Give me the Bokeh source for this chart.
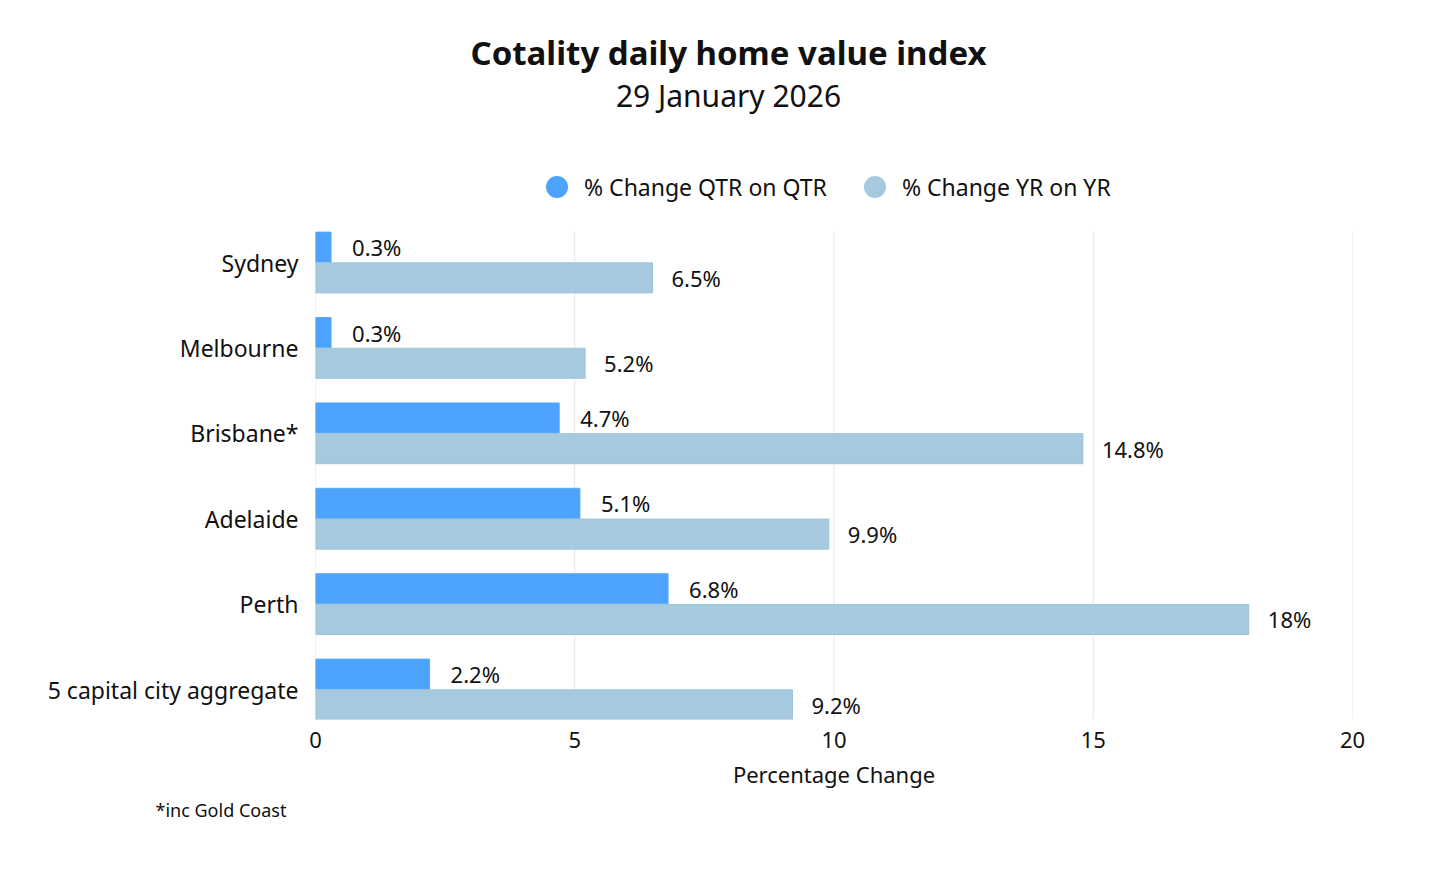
from bokeh.plotting import figure
from bokeh.models import ColumnDataSource, Legend, LegendItem, FixedTicker, Range1d, Title
from bokeh.embed import file_html
from bokeh.resources import INLINE
from bokeh.core.properties import value

cities = ["Sydney", "Melbourne", "Brisbane*", "Adelaide", "Perth", "5 capital city aggregate"]
qtr = [0.3, 0.3, 4.7, 5.1, 6.8, 2.2]
yr = [6.5, 5.2, 14.8, 9.9, 18.0, 9.2]
qtr_labels = ["0.3%", "0.3%", "4.7%", "5.1%", "6.8%", "2.2%"]
yr_labels = ["6.5%", "5.2%", "14.8%", "9.9%", "18%", "9.2%"]
x_ticks = [0, 5, 10, 15, 20]

FONT = "Noto Sans"
C_QTR = "#4DA3FB"
C_YR = "#A6C9DF"
TXT = "#111111"

n = len(cities)
pos = [n - 1 - i for i in range(n)]
src = ColumnDataSource(dict(
    city=cities, pos=pos, qtr=qtr, yr=yr,
    qpos=[v + 0.18 for v in pos], ypos=[v - 0.18 for v in pos],
    ql=qtr_labels, yl=yr_labels,
))

W, H = 1440, 858
FL, FR, FB = 315, 1352, 719      # frame left/right/bottom in figure pixels (top = 0)
Y0, PX = -0.351, 85.4            # y value at frame bottom, pixels per category
Y_TOP_BARS = 5.363

p = figure(width=W, height=H, output_backend="svg", toolbar_location=None, title_location=None,
           x_range=Range1d(0, 20), y_range=Range1d(Y0, Y0 + FB / PX),
           min_border_left=FL, min_border_right=W - FR, min_border_top=0, min_border_bottom=H - FB)
p.outline_line_color = None
p.background_fill_color = "white"
p.extra_x_ranges = {"px": Range1d(FL, FR)}
p.extra_y_ranges = {"px": Range1d(FB, 0)}

# grid lines limited to bar area
p.segment(x0=x_ticks, x1=x_ticks, y0=[Y0] * len(x_ticks), y1=[Y_TOP_BARS] * len(x_ticks),
          line_color="#E6E6E6", line_width=1)

p.hbar(y="qpos", left=0, right="qtr", height=0.352, source=src, fill_color=C_QTR,
       line_color="#5AAAF9", line_width=1)
p.hbar(y="ypos", left=0, right="yr", height=0.352, source=src, fill_color=C_YR,
       line_color="#9FC4DD", line_width=1)

p.text(x="qtr", y="qpos", text="ql", source=src, x_offset=21, text_baseline="middle",
       text_font=value(FONT), text_font_size="22px", text_color=TXT)
p.text(x="yr", y="ypos", text="yl", source=src, x_offset=19, text_baseline="middle",
       text_font=value(FONT), text_font_size="22px", text_color=TXT)

# axes
p.xaxis.ticker = FixedTicker(ticks=x_ticks)
p.xaxis.axis_line_color = None
p.xaxis.major_tick_line_color = None
p.xaxis.minor_tick_line_color = None
p.xaxis.major_label_text_font = FONT
p.xaxis.major_label_text_font_size = "22px"
p.xaxis.major_label_text_color = TXT
p.xaxis.major_label_standoff = 6
p.xaxis.axis_label = "Percentage Change"
p.xaxis.axis_label_text_font = FONT
p.xaxis.axis_label_text_font_size = "22px"
p.xaxis.axis_label_text_font_style = "normal"
p.xaxis.axis_label_text_color = TXT
p.xaxis.axis_label_standoff = 8

p.yaxis.ticker = FixedTicker(ticks=pos)
p.yaxis.major_label_overrides = {v: c for v, c in zip(pos, cities)}
p.yaxis.axis_line_color = None
p.yaxis.major_tick_line_color = None
p.yaxis.minor_tick_line_color = None
p.yaxis.major_label_text_font = FONT
p.yaxis.major_label_text_font_size = "23px"
p.yaxis.major_label_text_color = TXT
p.yaxis.major_label_standoff = 11

p.xgrid.grid_line_color = None
p.ygrid.grid_line_color = None

# legend (circle markers)
r1 = p.scatter(x="qtr", y="qpos", source=src, marker="circle", fill_color=C_QTR, line_color=None, visible=False)
r2 = p.scatter(x="yr", y="ypos", source=src, marker="circle", fill_color=C_YR, line_color=None, visible=False)
legend = Legend(items=[LegendItem(label="% Change QTR on QTR", renderers=[r1]),
                       LegendItem(label="% Change YR on YR", renderers=[r2])],
                orientation="horizontal", location=(214, 505),
                glyph_width=55, glyph_height=55, label_standoff=0, spacing=20,
                label_text_font=FONT, label_text_font_size="23px", label_text_color=TXT,
                border_line_color=None, background_fill_alpha=0, padding=10, margin=0)
p.add_layout(legend, "center")

# titles
p.text(x=[728], y=[52], text=["Cotality daily home value index"], x_range_name="px", y_range_name="px",
       text_align="center", text_baseline="middle", text_font=value(FONT), text_font_size="33px",
       text_font_style="bold", text_color=TXT)
p.text(x=[728], y=[95], text=["29 January 2026"], x_range_name="px", y_range_name="px",
       text_align="center", text_baseline="middle", text_font=value(FONT), text_font_size="30px",
       text_color=TXT)

# footnote
p.add_layout(Title(text="*inc Gold Coast", align="left", offset=-160, standoff=8,
                   text_font=FONT, text_font_size="18px", text_font_style="normal",
                   text_color=TXT), "below")

open("out.html", "w").write(file_html(p, INLINE))
